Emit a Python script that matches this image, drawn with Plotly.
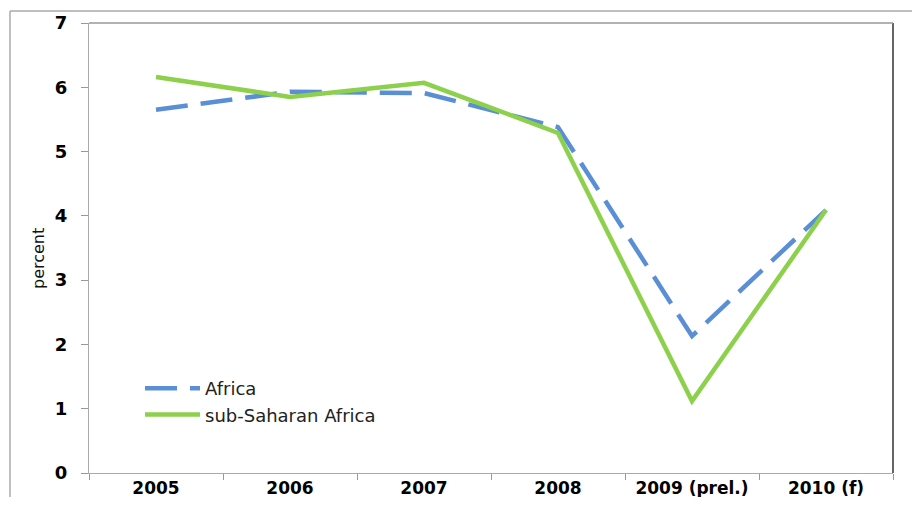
import plotly.graph_objects as go

categories = ["2005", "2006", "2007", "2008", "2009 (prel.)", "2010 (f)"]
africa = [5.65, 5.93, 5.91, 5.38, 2.13, 4.09]
ssa = [6.16, 5.85, 6.07, 5.29, 1.12, 4.09]

# page offset of 8px (body margin); figure drawn in its own pixel coords
OFF = 8
W, H = 920 - 2 * OFF, 505 - 2 * OFF
L, R, T, B = 89 - OFF, 920 - 893 - OFF, 23 - OFF, 505 - 473 - OFF
pw, ph = W - L - R, H - T - B

def px(x):
    return (x - OFF - L) / pw

def py(y):
    return (H - B - (y - OFF)) / ph

fig = go.Figure()
fig.add_trace(go.Scatter(x=categories, y=africa, name="Africa", mode="lines",
                         line=dict(color="#5A8FD6", width=4.5, dash="32px,13px")))
fig.add_trace(go.Scatter(x=categories, y=ssa, name="sub-Saharan Africa", mode="lines",
                         line=dict(color="#8CD04C", width=4.5)))

fig.update_layout(
    width=W, height=H,
    margin=dict(l=L, r=R, t=T, b=B, pad=0, autoexpand=False),
    paper_bgcolor="white", plot_bgcolor="white",
    font=dict(family="DejaVu Sans", color="black"),
    showlegend=True,
    legend=dict(x=px(140), y=py(370), xanchor="left", yanchor="top",
                bgcolor="rgba(0,0,0,0)", font=dict(size=18, color="#222"),
                tracegroupgap=0, itemwidth=55),
    xaxis=dict(type="category", tickson="boundaries", ticks="outside", ticklen=6,
               tickcolor="#999", showline=True, linecolor="#aaa", linewidth=1,
               showgrid=False, tickfont=dict(size=17, family="DejaVu Sans", weight="bold"),
               ticklabelstandoff=0, range=[-0.5, 5.5], automargin=False),
    yaxis=dict(range=[0, 7], dtick=1, ticks="outside", ticklen=7, tickcolor="#999",
               showline=True, linecolor="#aaa", linewidth=1, showgrid=False, zeroline=False,
               tickfont=dict(size=18, family="DejaVu Sans", weight="bold"),
               ticklabelstandoff=10, automargin=False),
    annotations=[
        dict(text="percent", xref="paper", yref="paper", x=px(38), y=py(259),
             xanchor="center", yanchor="middle", textangle=-90, showarrow=False,
             font=dict(size=16, family="DejaVu Sans", color="#111")),
    ],
    shapes=[
        dict(type="line", xref="paper", yref="paper", x0=1, x1=1, y0=0, y1=1,
             line=dict(color="#333", width=1.5)),
        dict(type="line", xref="paper", yref="paper", x0=0, x1=1, y0=1, y1=1,
             line=dict(color="#999", width=1.5)),
        dict(type="line", xref="paper", yref="paper", x0=px(10), x1=px(912), y0=py(11), y1=py(11),
             line=dict(color="#aaa", width=1.5)),
        dict(type="line", xref="paper", yref="paper", x0=px(10), x1=px(10), y0=py(11), y1=py(497),
             line=dict(color="#aaa", width=1.5)),
    ],
)

fig.write_html("out.html")
